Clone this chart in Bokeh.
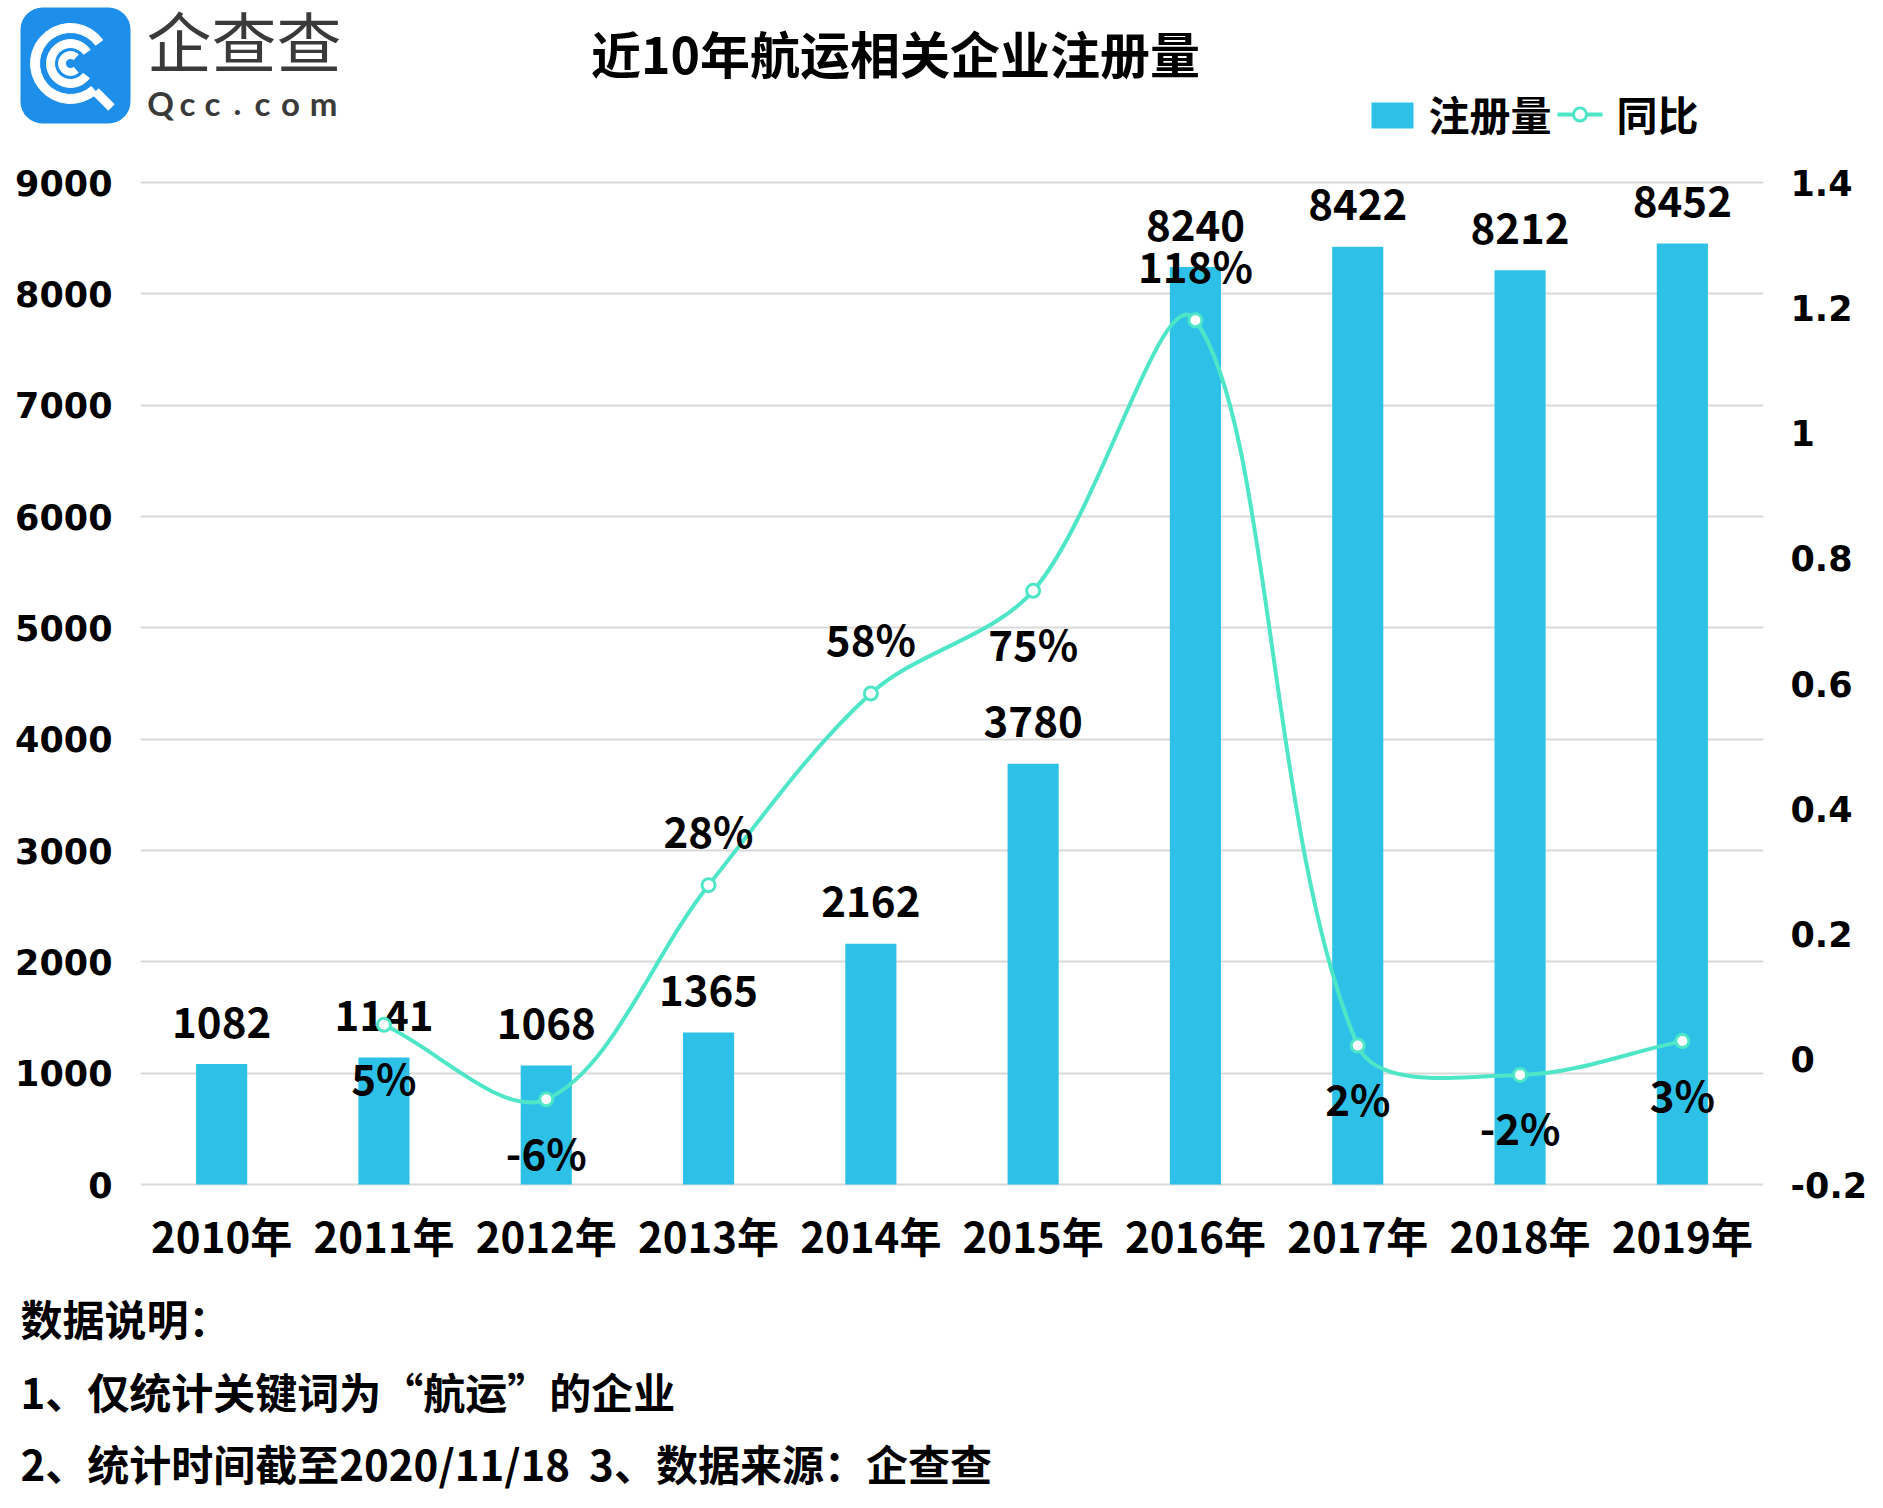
import numpy as np
from bokeh.plotting import figure
from bokeh.models import Range1d, LinearAxis, FixedTicker, ColumnDataSource
from bokeh.layouts import column
from bokeh.embed import file_html
from bokeh.resources import INLINE
from bokeh.core.properties import value

# ---------------- data ----------------
years = ["2010年", "2011年", "2012年", "2013年", "2014年",
         "2015年", "2016年", "2017年", "2018年", "2019年"]
registrations = [1082, 1141, 1068, 1365, 2162, 3780, 8240, 8422, 8212, 8452]
yoy_years = ["2011年", "2012年", "2013年", "2014年", "2015年",
             "2016年", "2017年", "2018年", "2019年"]
yoy = [0.055, -0.064, 0.278, 0.584, 0.748, 1.18, 0.022, -0.025, 0.029]
yoy_labels = ["5%", "-6%", "28%", "58%", "75%", "118%", "2%", "-2%", "3%"]
yoy_label_side = ["below", "below", "above", "above", "below",
                  "above", "below", "below", "below"]
left_ticks = [0, 1000, 2000, 3000, 4000, 5000, 6000, 7000, 8000, 9000]
right_ticks = [-0.2, 0, 0.2, 0.4, 0.6, 0.8, 1, 1.2, 1.4]
right_tick_labels = ["-0.2", "0", "0.2", "0.4", "0.6", "0.8", "1", "1.2", "1.4"]
title_text = "近10年航运相关企业注册量"
legend_bar = "注册量"
legend_line = "同比"
notes = ["数据说明：",
         "1、仅统计关键词为“航运”的企业",
         "2、统计时间截至2020/11/18\u00a0\u00a03、数据来源：企查查"]

# ---------------- style ----------------
W = 1883
FONT = "Noto Sans CJK SC"
BAR = "#2DC1E8"
LINE = "#4FE6C8"
GRID = "#D9D9D9"
LOGO_BLUE = "#1E8EEB"
LOGO_TEXT = "#3A3A3A"

# axis extents
L_MIN, L_MAX = 0, 9000
R_MIN, R_MAX = -0.2, 1.4
AXIS_TOP, AXIS_BOTTOM = 182, 1184     # page y of the 9000 / 0 gridlines
PAD_PX = 4                            # small pad so edge gridlines show fully

HH = 150
FRAME_TOP = AXIS_TOP - PAD_PX
FRAME_H = AXIS_BOTTOM - AXIS_TOP + 2 * PAD_PX
MT = FRAME_TOP - HH
FRAME_L, FRAME_R = 140, 120
FRAME_W = W - FRAME_L - FRAME_R
MB = 92
MH = MT + FRAME_H + MB
FH = 1508 - HH - MH

l_pad = PAD_PX * (L_MAX - L_MIN) / (AXIS_BOTTOM - AXIS_TOP)
r_pad = PAD_PX * (R_MAX - R_MIN) / (AXIS_BOTTOM - AXIS_TOP)

# ---------------- header ----------------
h = figure(width=W, height=HH, x_range=Range1d(0, W), y_range=Range1d(HH, 0),
           x_axis_type=None, y_axis_type=None, output_backend="svg",
           toolbar_location=None, min_border=0)
h.frame_align = False
h.grid.visible = False
h.outline_line_color = None

# logo
h.quad(left=20, right=130, top=7, bottom=123, fill_color=LOGO_BLUE,
       line_color=None, border_radius=22)
cx, cy = 70, 63
h.annular_wedge(x=cx, y=cy, inner_radius=31, outer_radius=40,
                start_angle=np.radians(36), end_angle=np.radians(312),
                color="white", direction="anticlock")
h.line(x=[95, 111], y=[91, 107], line_color="white", line_width=9)
h.annular_wedge(x=cx, y=cy, inner_radius=16, outer_radius=24,
                start_angle=np.radians(35), end_angle=np.radians(322),
                color="white", direction="anticlock")
h.annular_wedge(x=cx, y=cy, inner_radius=5, outer_radius=12,
                start_angle=np.radians(50), end_angle=np.radians(310),
                color="white", direction="anticlock")
h.text(x=[146], y=[38], text=["企查查"], text_font=value(FONT),
       text_font_size="65px", text_color=LOGO_TEXT, text_baseline="middle")
qcc_chars = list("Qcc.com")
qcc_x = [160, 187, 212, 237, 262, 290, 323]
h.text(x=qcc_x, y=[102] * 7, text=qcc_chars, text_font=value("Lato"),
       text_font_style="bold", text_font_size="33px", text_color=LOGO_TEXT,
       text_align="center", text_baseline="middle")

# title
h.text(x=[895], y=[51], text=[title_text], text_font=value(FONT),
       text_font_style="bold", text_font_size="50px", text_color="black",
       text_align="center", text_baseline="middle")

# legend
h.quad(left=1371, right=1413, top=102, bottom=128, fill_color=BAR, line_color=None)
h.text(x=[1428], y=[112], text=[legend_bar], text_font=value(FONT),
       text_font_style="bold", text_font_size="41px", text_color="black",
       text_baseline="middle")
h.line(x=[1557, 1602], y=[114, 114], line_color=LINE, line_width=4)
h.scatter(x=[1579.5], y=[114], size=13, fill_color="white", line_color=LINE,
          line_width=3)
h.text(x=[1616], y=[112], text=[legend_line], text_font=value(FONT),
       text_font_style="bold", text_font_size="41px", text_color="black",
       text_baseline="middle")

# ---------------- main chart ----------------
p = figure(width=W, height=MH, x_range=Range1d(0, len(years)),
           y_range=Range1d(L_MIN - l_pad, L_MAX + l_pad), output_backend="svg",
           toolbar_location=None, min_border_left=FRAME_L,
           min_border_right=FRAME_R, min_border_top=MT, min_border_bottom=MB)
p.frame_align = False
p.outline_line_color = None
yoy_range = Range1d(R_MIN - r_pad, R_MAX + r_pad)
p.extra_y_ranges = {"yoy": yoy_range}

xs = [i + 0.5 for i in range(len(years))]
xs_yoy = [years.index(y) + 0.5 for y in yoy_years]

bar_src = ColumnDataSource(dict(x=xs, top=registrations,
                                label=[str(v) for v in registrations]))
p.vbar(x="x", top="top", bottom=0, width=0.315, source=bar_src, fill_color=BAR,
       line_color=None)
p.text(x="x", y="top", text="label", source=bar_src, text_font=value(FONT),
       text_font_style="bold", text_font_size="42px", text_color="black",
       text_align="center", text_baseline="middle", y_offset=-42)

# smoothed line: Bezier segments through the data points, handle lengths
# proportional to neighbouring chord lengths measured on screen
XS = FRAME_W / len(years)
YS = FRAME_H / (yoy_range.end - yoy_range.start)
sx = np.array(xs_yoy, dtype=float) * XS
sy = np.array(yoy, dtype=float) * YS
n = len(sx)
hin = np.zeros((n, 2))
hout = np.zeros((n, 2))
for i in range(n):
    a = max(i - 1, 0)
    b = min(i + 1, n - 1)
    d = np.array([sx[b] - sx[a], sy[b] - sy[a]])
    d0 = np.hypot(sx[i] - sx[a], sy[i] - sy[a])
    d1 = np.hypot(sx[b] - sx[i], sy[b] - sy[i])
    tot = d0 + d1
    hin[i] = d / 3 * (d0 / tot)
    hout[i] = d / 3 * (d1 / tot)
seg = dict(x0=[], y0=[], x1=[], y1=[], cx0=[], cy0=[], cx1=[], cy1=[])
for i in range(n - 1):
    seg["x0"].append(xs_yoy[i]); seg["y0"].append(yoy[i])
    seg["x1"].append(xs_yoy[i + 1]); seg["y1"].append(yoy[i + 1])
    seg["cx0"].append((sx[i] + hout[i][0]) / XS)
    seg["cy0"].append((sy[i] + hout[i][1]) / YS)
    seg["cx1"].append((sx[i + 1] - hin[i + 1][0]) / XS)
    seg["cy1"].append((sy[i + 1] - hin[i + 1][1]) / YS)
p.bezier(source=ColumnDataSource(seg), x0="x0", y0="y0", x1="x1", y1="y1",
         cx0="cx0", cy0="cy0", cx1="cx1", cy1="cy1", line_color=LINE,
         line_width=4, y_range_name="yoy")
p.scatter(x=xs_yoy, y=yoy, size=13, fill_color="white", line_color=LINE,
          line_width=3, y_range_name="yoy")

dy = [-56 if s == "above" else 52 for s in yoy_label_side]
pct_src = ColumnDataSource(dict(x=xs_yoy, y=yoy, label=yoy_labels, dy=dy))
p.text(x="x", y="y", text="label", source=pct_src, y_offset="dy",
       text_font=value(FONT), text_font_style="bold", text_font_size="42px",
       text_color="black", text_align="center", text_baseline="middle",
       y_range_name="yoy")

# axes and grid
p.xgrid.visible = False
p.ygrid.ticker = FixedTicker(ticks=left_ticks)
p.ygrid.grid_line_color = GRID
p.ygrid.grid_line_width = 2
p.ygrid.level = "underlay"

p.xaxis.ticker = FixedTicker(ticks=xs)
p.xaxis.major_label_overrides = {x: y for x, y in zip(xs, years)}
p.xaxis.major_label_text_font = FONT
p.xaxis.major_label_text_font_style = "bold"
p.xaxis.major_label_text_font_size = "42px"
p.xaxis.major_label_text_color = "black"
p.xaxis.major_label_standoff = 15

p.yaxis.ticker = FixedTicker(ticks=left_ticks)
p.yaxis.major_label_text_font = "DejaVu Sans"
p.yaxis.major_label_text_font_style = "bold"
p.yaxis.major_label_text_font_size = "35px"
p.yaxis.major_label_text_color = "black"
p.yaxis.major_label_standoff = 28

ax_r = LinearAxis(y_range_name="yoy", ticker=FixedTicker(ticks=right_ticks),
                  major_label_overrides=dict(zip(right_ticks, right_tick_labels)))
ax_r.major_label_text_font = "DejaVu Sans"
ax_r.major_label_text_font_style = "bold"
ax_r.major_label_text_font_size = "35px"
ax_r.major_label_text_color = "black"
ax_r.major_label_standoff = 27
p.add_layout(ax_r, "right")

for ax in p.axis:
    ax.axis_line_color = None
    ax.major_tick_line_color = None
    ax.minor_tick_line_color = None
    ax.major_tick_out = 0
    ax.major_tick_in = 0

# ---------------- footer ----------------
f = figure(width=W, height=FH, x_range=Range1d(0, W),
           y_range=Range1d(HH + MH + FH, HH + MH), x_axis_type=None,
           y_axis_type=None, output_backend="svg", toolbar_location=None,
           min_border=0)
f.frame_align = False
f.grid.visible = False
f.outline_line_color = None
f.text(x=[20, 20, 20], y=[1317, 1390, 1462], text=notes, text_font=value(FONT),
       text_font_style="bold", text_font_size="42px", text_color="black",
       text_baseline="middle")

layout = column(h, p, f, spacing=0)
open("out.html", "w").write(file_html(layout, INLINE))
